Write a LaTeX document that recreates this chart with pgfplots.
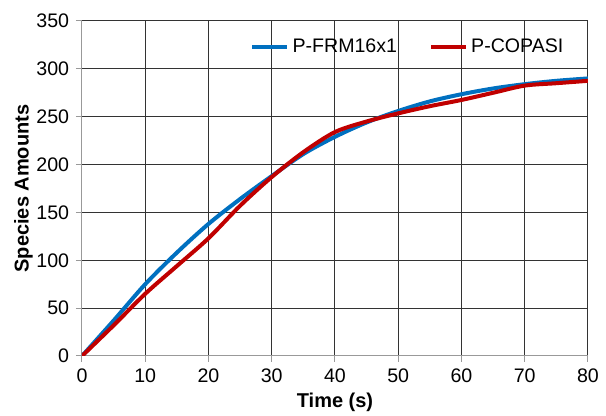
\documentclass[border=0pt]{standalone}
\usepackage{pgfplots}
\pgfplotsset{compat=1.18}
\usepackage{fontspec}
\setmainfont{Liberation Sans}
\definecolor{cblue}{HTML}{0070C0}
\definecolor{cred}{HTML}{C00000}
\begin{document}
\fontsize{9.8}{11}\selectfont
\begin{tikzpicture}
\path[use as bounding box] (-41pt,-30pt) rectangle (262pt,178pt);
\begin{axis}[
  scale only axis, width=253pt, height=167.5pt,
  xmin=0, xmax=80, ymin=0, ymax=350,
  xtick={0,10,...,80}, ytick={0,50,...,350},
  /pgf/number format/assume math mode=true,
  ticklabel style={font=\fontsize{9.8}{11}\selectfont},
  tick align=outside, major tick length=3pt,
  tick style={black!40, line width=0.5pt},
  xtick pos=bottom, ytick pos=left,
  grid=major, major grid style={black!80, line width=0.5pt},
  axis line style={black!40, line width=0.5pt},
  axis x line*=bottom, axis y line*=left,
  xlabel={\textbf{Time (s)}}, ylabel={\textbf{Species Amounts}},
  label style={font=\fontsize{10}{12}\selectfont},
  xlabel style={yshift=1.5pt},
  ylabel style={yshift=-5pt},
  legend columns=2,
  legend style={draw=none, fill=none, at={(0.332,0.922)}, anchor=west, font=\fontsize{9.8}{11}\selectfont,
    /tikz/every even column/.append style={column sep=14pt}, inner sep=0pt},
  legend cell align=left,
]
\addplot[cblue, line width=2pt, smooth] coordinates {
(0,0)(5,37)(10,75)(15,108)(20,138)(25,164)(30,188)(35,211)(40,229)(45,244)(50,256)(55,266)(60,273.5)(65,279.5)(70,284)(75,287.5)(80,290)};
\addlegendentry{P-FRM16x1}
\addplot[cred, line width=2pt, smooth] coordinates {
(0,0)(5,32)(10,65)(15,94)(20,123)(25,157)(30,187)(35,213)(40,234)(45,245)(50,253.5)(55,261)(60,267.5)(65,275)(70,282.5)(75,285)(80,287.5)};
\addlegendentry{P-COPASI}
\end{axis}
\end{tikzpicture}
\end{document}
